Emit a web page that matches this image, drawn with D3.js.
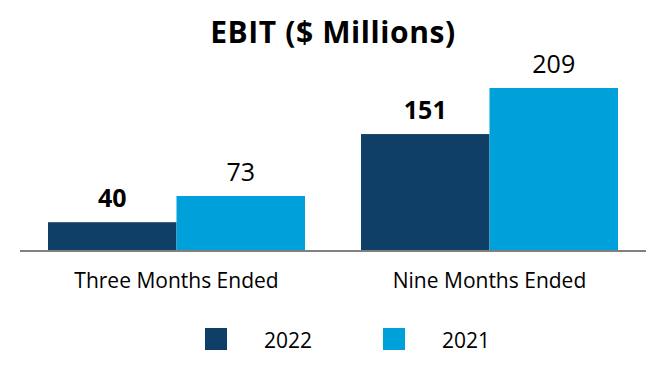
<!DOCTYPE html>
<html><head><meta charset="utf-8">
<script src="https://cdn.jsdelivr.net/npm/d3@7/dist/d3.min.js"></script>
<style>
body{margin:0;background:#fff;}
text{font-family:"Open Sans",sans-serif;fill:#000;}
</style></head>
<body><svg id="chart" width="666" height="380"></svg>
<script>
const categories = ["Three Months Ended", "Nine Months Ended"];
const seriesNames = ["2022", "2021"];
const values2022 = [40, 151];
const values2021 = [73, 209];
const colors = ["#0f3f66", "#00a0da"];

const svg = d3.select("#chart");
const W = 666, H = 380;
const baseY = 250;

const x0 = d3.scaleBand().domain(categories).range([20, 646]).paddingInner(0.179).paddingOuter(0.0895);
const x1 = d3.scaleBand().domain(seriesNames).range([0, x0.bandwidth()]).padding(0);
const y = d3.scaleLinear().domain([5, 209]).range([baseY, 88]);

svg.append("text").attr("x", 333).attr("y", 43).attr("text-anchor", "middle")
  .style("font-size", "30px").style("font-weight", "700").style("letter-spacing", "0.6px")
  .text("EBIT ($ Millions)");

const data = categories.map((c, i) => ({cat: c, vals: [
  {s: "2022", v: values2022[i], bold: true},
  {s: "2021", v: values2021[i], bold: false}]}));

const g = svg.selectAll("g.grp").data(data).enter().append("g")
  .attr("transform", d => `translate(${x0(d.cat)},0)`);

g.selectAll("rect").data(d => d.vals).enter().append("rect")
  .attr("x", d => x1(d.s)).attr("width", x1.bandwidth())
  .attr("y", d => y(d.v)).attr("height", d => baseY - y(d.v))
  .attr("fill", (d, i) => colors[i]);

g.selectAll("text.val").data(d => d.vals).enter().append("text")
  .attr("class", "val")
  .attr("x", d => x1(d.s) + x1.bandwidth() / 2)
  .attr("y", d => y(d.v) - 15)
  .attr("text-anchor", "middle")
  .style("font-size", "25px")
  .style("font-weight", d => d.bold ? "700" : "400")
  .text(d => d.v);

svg.append("line").attr("x1", 20).attr("x2", 646).attr("y1", 251).attr("y2", 251)
  .attr("stroke", "#808080").attr("stroke-width", 2);

const xAxis = d3.axisBottom(x0).tickSize(0).tickPadding(0);
const ax = svg.append("g").attr("transform", `translate(0,${baseY})`).call(xAxis);
ax.select(".domain").remove();
ax.selectAll("text").attr("dy", null).attr("y", 38).style("font-size", "21px")
  .style("font-family", "'Open Sans',sans-serif").attr("fill", "#000");

const legX = [205, 383];
const leg = svg.selectAll("g.leg").data(seriesNames).enter().append("g")
  .attr("transform", (d, i) => `translate(${legX[i]},328)`);
leg.append("rect").attr("width", 22).attr("height", 22).attr("fill", (d, i) => colors[i]);
leg.append("text").attr("x", 59).attr("y", 20).style("font-size", "21px").text(d => d);
</script></body></html>
